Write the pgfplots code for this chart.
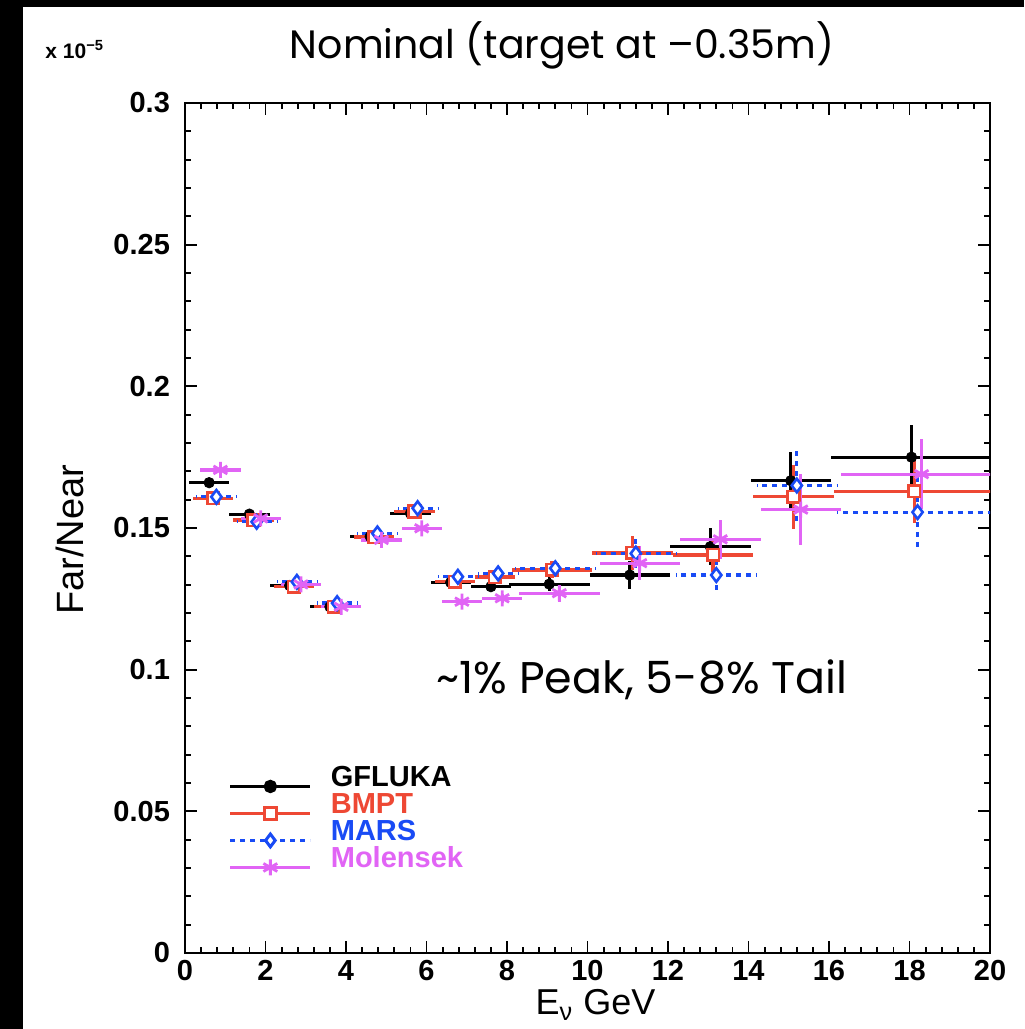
\documentclass[border=0pt]{standalone}
\usepackage{pgfplots}
\pgfplotsset{compat=1.18}
\usepackage{graphicx}
\usepackage{fontspec}
\setmainfont{Liberation Sans}
\newfontfamily\titlefont{Poppins}
\definecolor{bmpt}{RGB}{238,72,52}
\definecolor{mars}{RGB}{25,75,245}
\definecolor{mol}{RGB}{225,100,245}
\begin{document}
\begin{tikzpicture}
\path[use as bounding box] (0,0) rectangle (512pt,-514.5pt);
\fill[white] (0,0) rectangle (512pt,-514.5pt);
\fill[black] (0,0) rectangle (11.5pt,-514.5pt);
\fill[black] (0,0) rectangle (512pt,-3.5pt);
\begin{axis}[
  at={(92.5pt,-476.5pt)}, anchor=south west,
  scale only axis, width=402.5pt, height=425pt,
  xmin=0, xmax=20, ymin=0, ymax=0.3,
  xtick={0,2,...,20}, minor x tick num=4,
  xticklabels={0,2,4,6,8,10,12,14,16,18,20},
  ytick={0,0.05,0.1,0.15,0.2,0.25,0.3},
  yticklabels={0,0.05,0.1,0.15,0.2,0.25,0.3},
  minor y tick num=4,
  tick align=inside,
  major tick length=6pt, minor tick length=3pt,
  axis line style={line width=1.2pt},
  every tick/.style={black, line width=0.9pt},
  tick label style={font=\fontsize{14.5}{14.5}\selectfont\bfseries},
  yticklabel style={xshift=-4pt},
  xlabel={E\textsubscript{ν} GeV},
  ylabel={Far/Near},
  xlabel style={font=\fontsize{18}{18}\selectfont, at={(axis description cs:0.51,-0.061)}, anchor=center},
  ylabel style={font=\fontsize{19}{19}\selectfont, at={(axis description cs:-0.143,0.486)}, anchor=center},
  legend style={at={(axis cs:1.08,0.0621)}, anchor=north west, draw=none, fill=none,
    inner sep=0pt, row sep=4.5pt, column sep=9.5pt,
    nodes={inner sep=0pt, text height=6pt, text depth=0pt},
    font=\fontsize{14.5}{14.5}\selectfont\bfseries},
  legend cell align=left,
]
% GFLUKA
\addplot[black, only marks, mark=*, mark size=2.6pt,
  legend image code/.code={\path[draw=none, fill=none] (0pt,-4.5pt) rectangle (0pt,4.5pt);\draw[black, line width=1.5pt, sharp plot, mark repeat=2, mark phase=2, mark=*, mark size=2.6pt] plot coordinates {(0pt,0pt) (20pt,0pt) (40pt,0pt)};},
  error bars/.cd, x dir=both, x explicit, y dir=both, y explicit, error mark=none,
  error bar style={black, line width=1.6pt}]
  coordinates {
  (0.60,0.1660) +- (0.5,0.0008)
  (1.60,0.1549) +- (0.5,0.0008)
  (2.60,0.1297) +- (0.5,0.0008)
  (3.60,0.1222) +- (0.5,0.0008)
  (4.60,0.1470) +- (0.5,0.0008)
  (5.60,0.1552) +- (0.5,0.0008)
  (6.60,0.1308) +- (0.5,0.0010)
  (7.60,0.1293) +- (0.5,0.0015)
  (9.05,0.1302) +- (1,0.0025)
  (11.05,0.1334) +- (1,0.0050)
  (13.05,0.1434) +- (1,0.0065)
  (15.05,0.1667) +- (1,0.0102)
  (18.05,0.1750) +- (2,0.0114)
  };
\addlegendentry{\raisebox{3pt}{GFLUKA}}
% BMPT
\addplot[bmpt, only marks, mark=square*, mark size=2.9pt, mark options={fill=white, line width=1.3pt},
  legend image code/.code={\path[draw=none, fill=none] (0pt,-4.5pt) rectangle (0pt,4.5pt);\draw[bmpt, line width=1.5pt, sharp plot, mark repeat=2, mark phase=2, mark=square*, mark size=2.9pt, mark options={fill=white}] plot coordinates {(0pt,0pt) (20pt,0pt) (40pt,0pt)};},
  error bars/.cd, x dir=both, x explicit, y dir=both, y explicit, error mark=none,
  error bar style={bmpt, line width=1.6pt}]
  coordinates {
  (0.70,0.1605) +- (0.5,0.0008)
  (1.70,0.1528) +- (0.5,0.0008)
  (2.70,0.1293) +- (0.5,0.0008)
  (3.70,0.1222) +- (0.5,0.0008)
  (4.70,0.1468) +- (0.5,0.0008)
  (5.70,0.1558) +- (0.5,0.0008)
  (6.70,0.1310) +- (0.5,0.0010)
  (7.70,0.1327) +- (0.5,0.0015)
  (9.12,0.1352) +- (1,0.0030)
  (11.12,0.1412) +- (1,0.0060)
  (13.12,0.1405) +- (1,0.0060)
  (15.12,0.1610) +- (1,0.0112)
  (18.12,0.1630) +- (2,0.0112)
  };
\addlegendentry{\raisebox{3pt}{\textcolor{bmpt}{BMPT}}}
% MARS
\addplot[mars, only marks, mark=diamond*, mark size=3.4pt, mark options={fill=white, solid, line width=1.3pt},
  legend image code/.code={\path[draw=none, fill=none] (0pt,-4.5pt) rectangle (0pt,4.5pt);\draw[mars, line width=1.5pt, dash pattern=on 2.5pt off 2.5pt, sharp plot, mark repeat=2, mark phase=2, mark=diamond*, mark size=3.2pt, mark options={fill=white, solid}] plot coordinates {(0pt,0pt) (20pt,0pt) (40pt,0pt)};},
  error bars/.cd, x dir=both, x explicit, y dir=both, y explicit, error mark=none,
  error bar style={mars, line width=1.6pt, dash pattern=on 2.5pt off 2.5pt}]
  coordinates {
  (0.78,0.1610) +- (0.5,0.0008)
  (1.78,0.1522) +- (0.5,0.0008)
  (2.78,0.1310) +- (0.5,0.0008)
  (3.78,0.1235) +- (0.5,0.0008)
  (4.78,0.1481) +- (0.5,0.0008)
  (5.78,0.1570) +- (0.5,0.0008)
  (6.78,0.1328) +- (0.5,0.0010)
  (7.78,0.1340) +- (0.5,0.0015)
  (9.20,0.1358) +- (1,0.0030)
  (11.20,0.1410) +- (1,0.0050)
  (13.20,0.1334) +- (1,0.0065)
  (15.20,0.1650) +- (1,0.0140)
  (18.20,0.1556) +- (2,0.0135)
  };
\addlegendentry{\raisebox{3pt}{\textcolor{mars}{MARS}}}
% Molensek
\addplot[mol, only marks, mark=asterisk, mark size=4pt, mark options={line width=1.4pt},
  legend image code/.code={\path[draw=none, fill=none] (0pt,-4.5pt) rectangle (0pt,4.5pt);\draw[mol, line width=1.5pt, sharp plot, mark repeat=2, mark phase=2, mark=asterisk, mark size=4pt] plot coordinates {(0pt,0pt) (20pt,0pt) (40pt,0pt)};},
  error bars/.cd, x dir=both, x explicit, y dir=both, y explicit, error mark=none,
  error bar style={mol, line width=1.6pt}]
  coordinates {
  (0.88,0.1705) +- (0.5,0.0008)
  (1.88,0.1534) +- (0.5,0.0008)
  (2.88,0.1301) +- (0.5,0.0008)
  (3.88,0.1222) +- (0.5,0.0008)
  (4.88,0.1458) +- (0.5,0.0008)
  (5.88,0.1499) +- (0.5,0.0008)
  (6.88,0.1240) +- (0.5,0.0010)
  (7.88,0.1252) +- (0.5,0.0015)
  (9.30,0.1270) +- (1,0.0030)
  (11.30,0.1376) +- (1,0.0060)
  (13.30,0.1460) +- (1,0.0070)
  (15.30,0.1565) +- (1,0.0124)
  (18.30,0.1690) +- (2,0.0124)
  };
\addlegendentry{\raisebox{3pt}{\textcolor{mol}{Molensek}}}
\end{axis}
\node[anchor=center] at (281pt,-22.5pt) {\resizebox{272pt}{!}{\titlefont\fontsize{20}{20}\selectfont Nominal (target at –0.35m)}};
\node[anchor=center] at (321pt,-340pt) {\resizebox{205.5pt}{!}{\titlefont\fontsize{20}{20}\selectfont\textasciitilde1\% Peak, 5-8\% Tail}};
\node[anchor=west, inner sep=0pt] at (22.5pt,-25pt) {\fontsize{10.5}{10.5}\selectfont\bfseries x 10\textsuperscript{−5}};
\end{tikzpicture}
\end{document}
